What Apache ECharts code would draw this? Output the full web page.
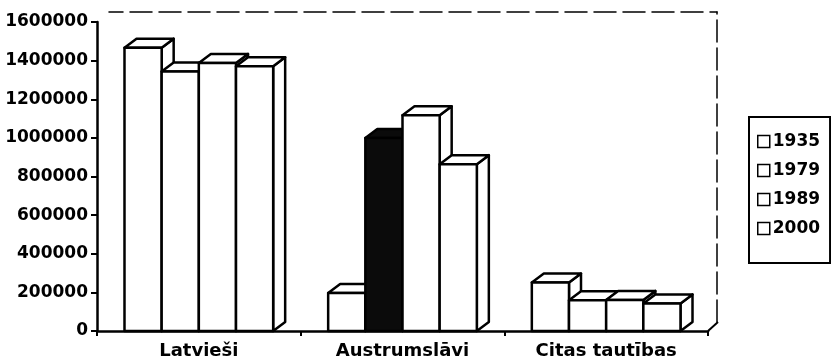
<!DOCTYPE html>
<html>
<head>
<meta charset="utf-8">
<script src="https://cdn.jsdelivr.net/npm/echarts@6/dist/echarts.min.js"></script>
<style>
  html, body { margin: 0; padding: 0; background: #fff; }
  #chart { width: 831px; height: 363px; }
</style>
</head>
<body>
<div id="chart"></div>
<script>
// Population by nationality group, census years
const categories = ['Latvieši', 'Austrumslāvi', 'Citas tautības'];
const years = ['1935', '1979', '1989', '2000'];
const values1935 = [1467000, 197000, 251000];
const values1979 = [1344000, 1000000, 159000];
const values1989 = [1388000, 1117000, 161000];
const values2000 = [1371000, 864000, 143000];
const yTicks = [0, 200000, 400000, 600000, 800000, 1000000, 1200000, 1400000, 1600000];

const seriesValues = [values1935, values1979, values1989, values2000];

// pseudo-3D depth of bars and walls (pixels)
const DX = 12, DY = 9;
const GROUP_FRAC = 0.73;
const FONT = '"DejaVu Sans", Arial, sans-serif';
const EDGE = 2.5;

// front grid and the back wall behind it
const G = { left: 97, right: 123, top: 22, bottom: 32 };
const W = 831, H = 363;

function makeRenderer(si) {
  return function (params, api) {
    const ci = api.value(0);
    const v = api.value(1);
    const base = api.coord([ci, 0]);
    const top = api.coord([ci, v]);
    const band = api.size([1, 0])[0];
    const groupW = band * GROUP_FRAC;
    const w = groupW / years.length;
    const x0 = base[0] - groupW / 2 + si * w;
    const x1 = x0 + w;
    const yb = base[1], yt = top[1];
    const style = { fill: api.visual('color'), stroke: '#000', lineWidth: EDGE, lineJoin: 'round' };
    return {
      type: 'group',
      children: [
        { type: 'polygon', shape: { points: [[x1, yt], [x1 + DX, yt - DY], [x1 + DX, yb - DY], [x1, yb]] }, style: style },
        { type: 'polygon', shape: { points: [[x0, yt], [x1, yt], [x1 + DX, yt - DY], [x0 + DX, yt - DY]] }, style: style },
        { type: 'rect', shape: { x: x0, y: yt, width: w, height: yb - yt }, style: style }
      ]
    };
  };
}

const series = years.map((yr, si) => ({
  name: yr,
  type: 'custom',
  xAxisIndex: 0,
  yAxisIndex: 0,
  clip: false,
  itemStyle: { color: '#fff' },
  renderItem: makeRenderer(si),
  encode: { x: 0, y: 1 },
  data: seriesValues[si].map((v, ci) => {
    const item = { value: [ci, v] };
    if (yr === '1979' && ci === 1) item.itemStyle = { color: '#0b0b0b' };
    return item;
  })
}));

const chart = echarts.init(document.getElementById('chart'), null, { renderer: 'canvas' });
chart.setOption({
  animation: false,
  backgroundColor: '#fff',
  grid: [
    { left: G.left, right: G.right, top: G.top, bottom: G.bottom, containLabel: false, outerBoundsMode: 'none' },
    { left: G.left + DX, right: G.right - DX + 3, top: G.top - DY - 1, bottom: G.bottom + DY, containLabel: false, outerBoundsMode: 'none' }
  ],
  xAxis: [
    {
      type: 'category', gridIndex: 0, data: categories, boundaryGap: true,
      axisLine: { onZero: false, lineStyle: { color: '#000', width: EDGE } },
      axisTick: { show: true, length: 5, lineStyle: { color: '#000', width: 2 } },
      axisLabel: { color: '#000', fontFamily: FONT, fontWeight: 'bold', fontSize: 18, margin: 11 }
    },
    {
      type: 'category', gridIndex: 1, data: categories, position: 'top',
      axisLine: { onZero: false, lineStyle: { color: '#000', width: 1.5, type: [22, 7], dashOffset: 8 } },
      axisTick: { show: false }, axisLabel: { show: false }
    }
  ],
  yAxis: [
    {
      type: 'value', gridIndex: 0, min: yTicks[0], max: yTicks[yTicks.length - 1],
      interval: yTicks[1] - yTicks[0],
      splitLine: { show: false },
      axisLine: { show: true, onZero: false, lineStyle: { color: '#000', width: EDGE } },
      axisTick: { show: true, length: 6, lineStyle: { color: '#000', width: 2 } },
      axisLabel: {
        color: '#000', fontFamily: FONT, fontWeight: 'bold', fontSize: 17, margin: 9,
        formatter: (v) => String(v)
      }
    },
    {
      type: 'value', gridIndex: 1, position: 'right', min: 0, max: 1,
      splitLine: { show: false },
      axisLine: { show: true, onZero: false, lineStyle: { color: '#000', width: 1.5, type: [22, 6] } },
      axisTick: { show: false }, axisLabel: { show: false }
    }
  ],
  legend: {
    data: years,
    orient: 'vertical',
    left: 749, top: 117,
    padding: [16, 10, 26, 8],
    itemGap: 12,
    itemWidth: 12, itemHeight: 12,
    icon: 'rect',
    borderColor: '#000', borderWidth: 2,
    backgroundColor: '#fff',
    itemStyle: { color: '#fff', borderColor: '#000', borderWidth: 1.5 },
    textStyle: { color: '#000', fontFamily: FONT, fontWeight: 'bold', fontSize: 17, padding: [0, 0, 0, -2] }
  },
  graphic: [
    {
      type: 'line',
      shape: { x1: W - G.right, y1: H - G.bottom, x2: W - G.right + DX - 2, y2: H - G.bottom - DY },
      style: { stroke: '#000', lineWidth: 2 }
    }
  ],
  series: series
});
</script>
</body>
</html>
